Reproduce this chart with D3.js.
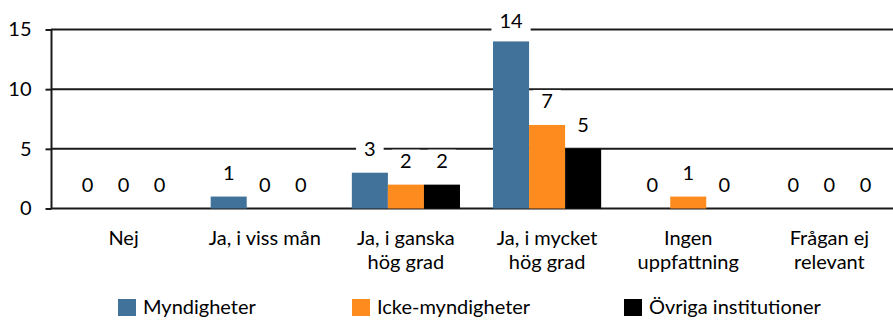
<!DOCTYPE html>
<html><head><meta charset="utf-8">
<script src="https://cdn.jsdelivr.net/npm/d3@7"></script>
<style>
html,body{margin:0;padding:0;background:#fff;}
svg text{font-family:Lato,"Open Sans",sans-serif;fill:#000;}
</style></head>
<body><svg id="chart" width="893" height="325"></svg>
<script>
const categories = ["Nej","Ja, i viss mån","Ja, i ganska\nhög grad","Ja, i mycket\nhög grad","Ingen\nuppfattning","Frågan ej\nrelevant"];
const series = ["Myndigheter","Icke-myndigheter","Övriga institutioner"];
const myndigheter = [0,1,3,14,0,0];
const ickeMyndigheter = [0,0,2,7,1,0];
const ovrigaInstitutioner = [0,0,2,5,0,0];
const yTicks = [0,5,10,15];
const colors = ["#41729a","#fd8b1e","#000000"];

const values = [myndigheter, ickeMyndigheter, ovrigaInstitutioner];
const svg = d3.select("#chart");
const FS = 20;

const x0 = d3.scaleBand().domain(categories).range([53, 900]).padding(0);
const x1 = d3.scaleBand().domain(series).range([0, x0.bandwidth()]).paddingInner(0).paddingOuter(0.458);
const y = d3.scaleLinear().domain([0, 15]).range([208.5, 29.5]);

// gridlines
svg.append("g").selectAll("line").data(yTicks).join("line")
  .attr("x1", 51).attr("x2", 893)
  .attr("y1", d => y(d)).attr("y2", d => y(d))
  .attr("stroke", "#1a1a1a").attr("stroke-width", 2);

// y axis
const yAxis = d3.axisLeft(y).tickValues(yTicks).tickSize(6).tickPadding(14).tickFormat(d3.format("d"));
const ga = svg.append("g").attr("transform", "translate(51.5,0)").call(yAxis);
ga.select(".domain").attr("stroke", "#1a1a1a").attr("stroke-width", 2).attr("d", `M0,${y(15)}V${y(0)}`);
ga.selectAll(".tick line").attr("stroke", "#1a1a1a").attr("stroke-width", 2);
ga.selectAll(".tick text").attr("font-size", FS).attr("font-family", "Lato").attr("fill", "#000");

// bars
const data = [];
categories.forEach((c, i) => series.forEach((s, j) => data.push({c, s, j, v: values[j][i]})));

svg.append("g").selectAll("rect").data(data).join("rect")
  .attr("x", d => x0(d.c) + x1(d.s))
  .attr("width", x1.bandwidth())
  .attr("y", d => y(d.v))
  .attr("height", d => y(0) - y(d.v))
  .attr("fill", d => colors[d.j]);

// value labels with white background
const lg = svg.append("g");
data.forEach(d => {
  const cx = x0(d.c) + x1(d.s) + x1.bandwidth() / 2;
  const cy = Math.max(21, y(d.v) - 24);
  const g = lg.append("g");
  const r = g.append("rect").attr("fill", "#fff");
  const t = g.append("text").attr("x", cx).attr("y", cy).attr("dy", "0.35em")
    .attr("text-anchor", "middle").attr("font-size", FS).text(d.v);
  const w = t.node().getComputedTextLength();
  r.attr("x", cx - w / 2 - 8).attr("width", w + 16).attr("y", cy - 11).attr("height", 22);
});

// x labels
const xg = svg.append("g");
categories.forEach(c => {
  const lines = c.split("\n");
  const t = xg.append("text").attr("text-anchor", "middle").attr("font-size", FS)
    .attr("x", x0(c) + x0.bandwidth() / 2).attr("y", 245);
  lines.forEach((l, k) => t.append("tspan").attr("x", x0(c) + x0.bandwidth() / 2).attr("dy", k ? 24 : 0).text(l));
});

// legend
const legX = [118, 352, 624];
const leg = svg.append("g");
series.forEach((s, j) => {
  leg.append("rect").attr("x", legX[j]).attr("y", 299).attr("width", 18).attr("height", 17).attr("fill", colors[j]);
  leg.append("text").attr("x", legX[j] + 25).attr("y", 314).attr("font-size", FS).text(s);
});
</script></body></html>
